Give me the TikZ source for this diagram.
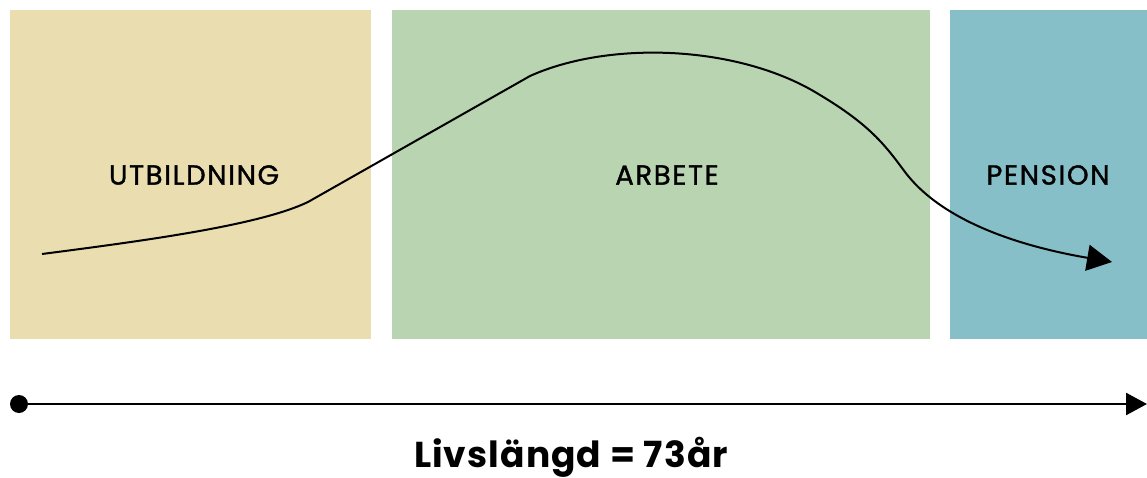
\documentclass[tikz,border=0pt]{standalone}
\usepackage{fontspec}
\setmainfont{Poppins}
\newfontfamily\medfont{Poppins}[FakeBold=1.3, LetterSpace=6]
\newfontfamily\ttlfont{Poppins}[LetterSpace=3]
\usetikzlibrary{arrows.meta}
\definecolor{cyel}{HTML}{EADDB0}
\definecolor{cgrn}{HTML}{B9D4B0}
\definecolor{ctea}{HTML}{87BFC9}
\begin{document}
\begin{tikzpicture}[x=1pt,y=-1pt,
  phase/.style={font=\medfont\fontsize{27.5}{32}\selectfont, text=black}]
\useasboundingbox (0,0) rectangle (1147,478);
\fill[cyel] (10,10) rectangle (371,339);
\fill[cgrn] (392,10) rectangle (930,339);
\fill[ctea] (950,10) rectangle (1147,339);
\node[phase] (utb) at (194,175) {UTBILDNING};
\node[phase] (arb) at (667,175) {ARBETE};
\node[phase] (pen) at (1048,175) {PENSION};
\coordinate (cs) at (42,254);
\coordinate (ce) at (1112,262);
\draw[line width=2pt, -{Triangle[length=25pt,width=26pt]}]
  (cs) .. controls (150,240) and (260,225) .. (308,202)
  -- (530,76) .. controls (610,40) and (740,45) .. (820,95)
  .. controls (870,125) and (885,145) .. (905,172)
  .. controls (945,225) and (1030,248) .. (ce);
\coordinate (as) at (19,404);
\coordinate (ae) at (1147,404);
\fill (as) circle (9);
\draw[line width=2.5pt, -{Triangle[length=21pt,width=22pt]}] (as) -- (ae);
\node[font=\ttlfont\fontsize{36}{42}\selectfont\bfseries] (title) at (571,457) {Livslängd = 73år};
\end{tikzpicture}
\end{document}
